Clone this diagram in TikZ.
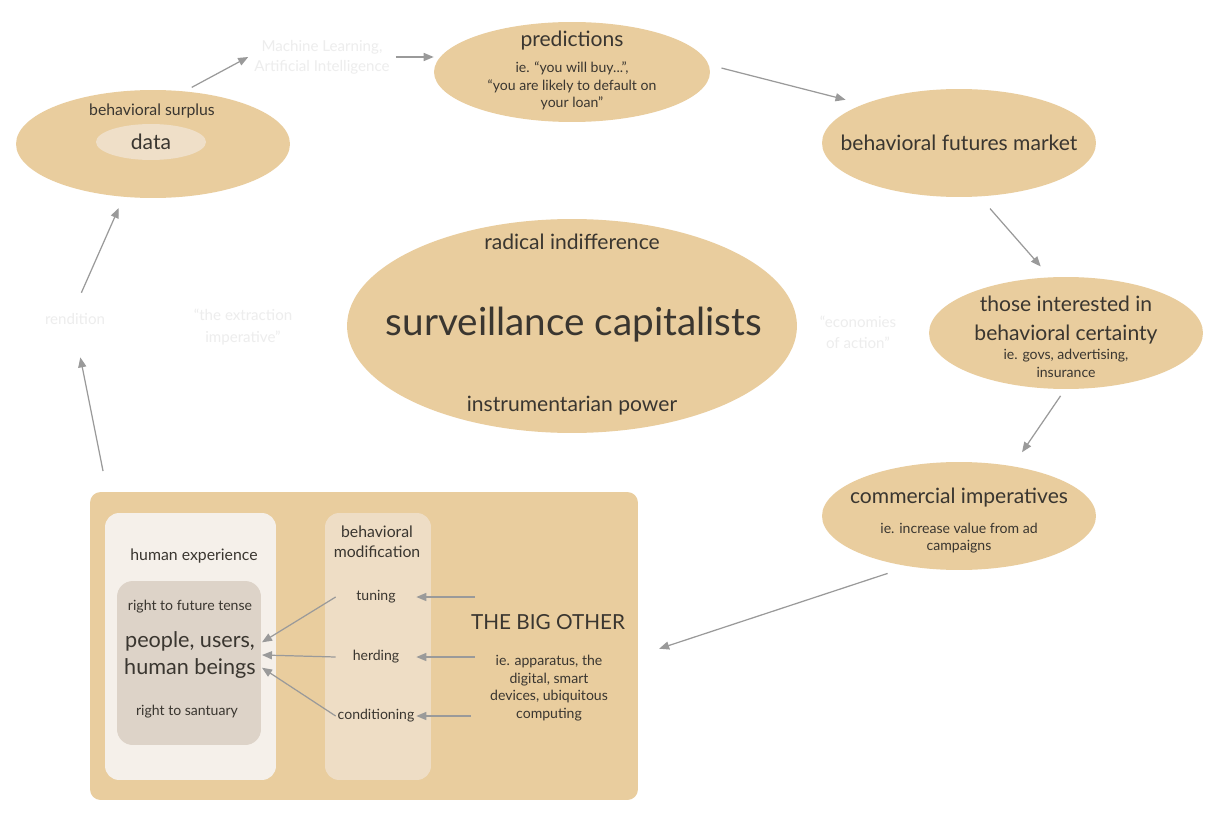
\documentclass[tikz,border=0pt]{standalone}
\usepackage{fontspec}
\setmainfont{Lato}
\usetikzlibrary{shapes.geometric,arrows.meta}
\definecolor{sand}{HTML}{E9CD9E}
\definecolor{cream}{HTML}{EFDFC8}
\definecolor{paper}{HTML}{F5F0EA}
\definecolor{stone}{HTML}{DDD3C8}
\definecolor{column}{HTML}{EEDDC5}
\definecolor{ink}{HTML}{3A3630}
\definecolor{ghost}{HTML}{EDEDED}
\definecolor{wire}{HTML}{9A9A9A}
\tikzstyle{bubble}=[ellipse,fill=sand,inner sep=0pt,minimum width=5.48cm,minimum height=2.16cm]
\tikzstyle{panel}=[rectangle,rounded corners=8pt,inner sep=0pt]
\tikzstyle{head}=[text=ink,align=center,font=\fontsize{12}{16}\selectfont]
\tikzstyle{label}=[text=ink,align=center,font=\fontsize{9}{11.4}\selectfont]
\tikzstyle{note}=[text=ink,align=center,font=\fontsize{8}{10}\selectfont]
\tikzstyle{faint}=[text=ghost,align=center,font=\fontsize{8.6}{11.4}\selectfont]
\tikzstyle{flow}=[draw=wire,line width=0.7pt,-{Triangle[length=5.7pt,width=4.6pt]}]
\tikzstyle{lever}=[note,inner sep=0pt,minimum width=1.6cm,minimum height=10pt]

\begin{document}
\begin{tikzpicture}[x=0.02cm,y=-0.02cm]
  \fill[white] (0,0) rectangle (1220,824);
  \useasboundingbox (0,0) rectangle (1220,824);

  % the loop of ellipses
  \node (surplus) at (153,144) [bubble] {};
  \node (surplust) at (152,111) [label] {behavioral surplus};
  \node (data) at (151,142) [ellipse,fill=cream,inner sep=0pt,minimum width=2.2cm,minimum height=0.72cm,head] {data};
  \node (ml) at (322,57) [faint] {Machine Learning,\\Artificial Intelligence};
  \node (pred) at (572,72) [bubble,minimum width=5.52cm,minimum height=2cm] {};
  \node (predt) at (572,41) [head] {predictions};
  \node (predsub) at (572,86) [note] {ie. “you will buy...”,\\“you are likely to default on\\your loan”};
  \node (fut) at (959,143) [bubble] {};
  \node (futt) at (959,143) [head] {behavioral futures market};
  \node (cert) at (1066,333) [bubble,minimum height=2.24cm] {};
  \node (certt) at (1066,320) [head] {those interested in\\behavioral certainty};
  \node (certsub) at (1066,363.5) [note] {ie. govs, advertising,\\insurance};
  \node (comm) at (959,516) [bubble] {};
  \node (commt) at (959,498) [head] {commercial imperatives};
  \node (commsub) at (959,538) [note] {ie. increase value from ad\\campaigns};

  % centre
  \node (cap) at (572,326) [bubble,minimum width=9cm,minimum height=4.28cm] {};
  \node (indiff) at (572,242) [head] {radical indifference};
  \node (capt) at (574,325) [text=ink,font=\fontsize{22}{26}\selectfont] {surveillance capitalists};
  \node (power) at (572,406) [head] {instrumentarian power};

  \node (rend) at (75,319) [faint] {rendition};
  \node (extr) at (243,327) [faint,font=\fontsize{8.6}{12}\selectfont] {“the extraction\\imperative”};
  \node (econ) at (858,332) [faint,font=\fontsize{8.6}{12}\selectfont] {“economies\\of action”};

  % the big other
  \node (bigbox) at (364,646) [panel,fill=sand,rounded corners=6pt,minimum width=10.96cm,minimum height=6.16cm] {};
  \node (humanbox) at (190.5,646.5) [panel,fill=paper,minimum width=3.42cm,minimum height=5.34cm] {};
  \node (rightsbox) at (189,663) [panel,fill=stone,rounded corners=9pt,minimum width=2.88cm,minimum height=3.28cm] {};
  \node (modbox) at (378,646.5) [panel,fill=column,minimum width=2.12cm,minimum height=5.34cm] {};
  \node (humant) at (194,556) [label] {human experience};
  \node (future) at (190,607) [note] {right to future tense};
  \node (people) at (190,655) [text=ink,align=center,font=\fontsize{12.3}{15.5}\selectfont] {people, users,\\human beings};
  \node (sanct) at (187,712) [note] {right to santuary};
  \node (modt) at (377,542) [label] {behavioral\\modification};
  \node (tuning) at (376,597) [lever] {tuning};
  \node (herding) at (376,657) [lever] {herding};
  \node (cond) at (376,716) [lever] {conditioning};
  \node (other) at (548,622) [head,font=\fontsize{11.8}{16}\selectfont] {THE BIG OTHER};
  \node (othersub) at (549,688) [note] {ie. apparatus, the\\digital, smart\\devices, ubiquitous\\computing};

  \draw [flow,shorten <=4.5pt] (surplus.59) -- (ml.west);
  \draw [flow] (ml.east) -- (ml.east -| pred.west);
  \draw [flow,shorten <=7.4pt,shorten >=10.2pt] (pred.3) -- (fut.158);
  \draw [flow,shorten <=9pt,shorten >=8pt] (fut.-69) -- (cert.106);
  \draw [flow,shorten <=4.5pt,shorten >=9.5pt] (cert.-91) -- (comm.43);
  \draw [flow,shorten <=12.5pt,shorten >=12.5pt] (comm.-135) -- (bigbox.-2);
  \draw [flow,shorten <=12pt,shorten >=15.4pt] (bigbox.149) -- (rend.south);
  \draw [flow,shorten <=9pt,shorten >=6.8pt] (rend.north) -- (surplus.-119);

  \draw [flow] (tuning.west) -- (people.10);
  \draw [flow] (herding.west) -- (people.east);
  \draw [flow] (cond.west) -- (people.-10);
  \draw [flow,shorten <=-5.7pt] (tuning.east -| other.west) -- (tuning.east);
  \draw [flow,shorten <=-5.7pt] (herding.east -| other.west) -- (herding.east);
  \draw [flow,shorten <=-3.4pt] (cond.east -| other.west) -- (cond.east);
\end{tikzpicture}
\end{document}
